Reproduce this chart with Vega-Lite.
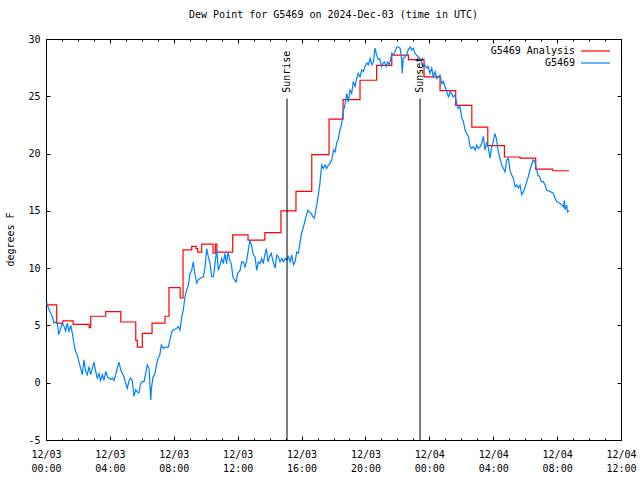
{
  "$schema": "https://vega.github.io/schema/vega-lite/v6.json",
  "width": 575,
  "height": 401,
  "autosize": {"type": "none"},
  "padding": {"left": 46, "top": 39, "right": 19, "bottom": 40},
  "background": "white",
  "config": {
    "font": "DejaVu Sans Mono",
    "view": {"stroke": "black", "strokeWidth": 1},
    "axis": {"labelFont": "DejaVu Sans Mono", "labelFontSize": 10, "labelColor": "black", "tickColor": "black", "domain": false, "grid": false, "title": null},
    "title": {"font": "DejaVu Sans Mono", "fontSize": 10, "fontWeight": "normal", "color": "black"}
  },
  "title": {"text": "Dew Point for G5469 on 2024-Dec-03 (time in UTC)", "anchor": "middle", "offset": 14},
  "datasets": {
    "analysis": [
      {"h": 0, "v": 6.8}, {"h": 0.67, "v": 5.2}, {"h": 1.05, "v": 5.4}, {"h": 1.7, "v": 5.1},
      {"h": 2.7, "v": 4.8}, {"h": 2.8, "v": 5.8}, {"h": 3.74, "v": 6.2}, {"h": 4.68, "v": 5.3},
      {"h": 5.62, "v": 3.7}, {"h": 5.72, "v": 3.1}, {"h": 6.03, "v": 4.3}, {"h": 6.64, "v": 5.2},
      {"h": 7.45, "v": 5.8}, {"h": 7.7, "v": 8.3}, {"h": 8.4, "v": 7.4}, {"h": 8.58, "v": 11.6},
      {"h": 9.12, "v": 11.9}, {"h": 9.4, "v": 11.7}, {"h": 9.5, "v": 11.4}, {"h": 9.75, "v": 12.1},
      {"h": 10.46, "v": 11.3}, {"h": 10.6, "v": 12.1}, {"h": 10.7, "v": 11.4}, {"h": 11.69, "v": 12.9},
      {"h": 12.65, "v": 12.45}, {"h": 13.7, "v": 13.1}, {"h": 14.71, "v": 15.0}, {"h": 15.65, "v": 16.7},
      {"h": 16.64, "v": 19.9}, {"h": 17.72, "v": 23.0}, {"h": 18.6, "v": 24.7}, {"h": 19.66, "v": 26.4},
      {"h": 20.7, "v": 27.7}, {"h": 21.65, "v": 28.6}, {"h": 22.69, "v": 28.2}, {"h": 23.67, "v": 26.7},
      {"h": 24.67, "v": 25.5}, {"h": 25.65, "v": 24.2}, {"h": 26.66, "v": 22.3}, {"h": 27.66, "v": 20.7},
      {"h": 28.7, "v": 19.7}, {"h": 29.68, "v": 19.6}, {"h": 30.66, "v": 18.65}, {"h": 31.73, "v": 18.5},
      {"h": 32.75, "v": 18.5}
    ],
    "obs": [
      {"h": 0.04, "v": 7.0}, {"h": 0.13, "v": 6.6}, {"h": 0.25, "v": 6.2}, {"h": 0.4, "v": 5.75},
      {"h": 0.5, "v": 5.2}, {"h": 0.6, "v": 5.3}, {"h": 0.7, "v": 5.2}, {"h": 0.8, "v": 4.2},
      {"h": 0.92, "v": 4.75}, {"h": 1.02, "v": 5.2}, {"h": 1.13, "v": 4.9}, {"h": 1.23, "v": 4.5},
      {"h": 1.33, "v": 5.2}, {"h": 1.44, "v": 4.5}, {"h": 1.55, "v": 5.0}, {"h": 1.65, "v": 4.3},
      {"h": 1.75, "v": 3.4}, {"h": 1.86, "v": 2.7}, {"h": 1.96, "v": 2.4}, {"h": 2.07, "v": 1.8},
      {"h": 2.17, "v": 1.25}, {"h": 2.27, "v": 0.7}, {"h": 2.38, "v": 2.0}, {"h": 2.48, "v": 1.0},
      {"h": 2.59, "v": 0.7}, {"h": 2.69, "v": 1.4}, {"h": 2.8, "v": 0.7}, {"h": 2.9, "v": 1.25},
      {"h": 3.0, "v": 1.8}, {"h": 3.11, "v": 1.0}, {"h": 3.21, "v": 0.4}, {"h": 3.32, "v": 0.8},
      {"h": 3.42, "v": 0.2}, {"h": 3.53, "v": 0.7}, {"h": 3.63, "v": 0.2}, {"h": 3.74, "v": 1.0},
      {"h": 3.84, "v": 0.5}, {"h": 3.94, "v": 0.4}, {"h": 4.05, "v": 0.3}, {"h": 4.15, "v": 0.4},
      {"h": 4.26, "v": 0.2}, {"h": 4.36, "v": 0.7}, {"h": 4.46, "v": 1.25}, {"h": 4.57, "v": 1.8},
      {"h": 4.68, "v": 1.1}, {"h": 4.78, "v": 0.8}, {"h": 4.88, "v": 0.5}, {"h": 4.99, "v": -0.05},
      {"h": 5.09, "v": -0.5}, {"h": 5.2, "v": 0.2}, {"h": 5.3, "v": 0.4}, {"h": 5.4, "v": 0.2},
      {"h": 5.51, "v": -1.2}, {"h": 5.62, "v": -0.6}, {"h": 5.72, "v": -0.8}, {"h": 5.82, "v": -0.9},
      {"h": 5.93, "v": -0.05}, {"h": 6.03, "v": 0.1}, {"h": 6.14, "v": 0.1}, {"h": 6.24, "v": 0.8},
      {"h": 6.34, "v": 1.55}, {"h": 6.45, "v": 1.25}, {"h": 6.56, "v": -1.5}, {"h": 6.6, "v": -0.5},
      {"h": 6.7, "v": 0.5}, {"h": 6.8, "v": 0.7}, {"h": 6.9, "v": 1.4}, {"h": 7.0, "v": 2.1},
      {"h": 7.12, "v": 2.4}, {"h": 7.22, "v": 3.3}, {"h": 7.35, "v": 3.0}, {"h": 7.45, "v": 3.1},
      {"h": 7.66, "v": 3.1}, {"h": 7.87, "v": 4.45}, {"h": 7.97, "v": 4.6}, {"h": 8.18, "v": 4.75},
      {"h": 8.28, "v": 4.9}, {"h": 8.39, "v": 4.6}, {"h": 8.5, "v": 5.75}, {"h": 8.6, "v": 6.35},
      {"h": 8.7, "v": 7.5}, {"h": 8.81, "v": 8.1}, {"h": 8.91, "v": 8.5}, {"h": 9.02, "v": 9.55},
      {"h": 9.12, "v": 9.8}, {"h": 9.22, "v": 10.55}, {"h": 9.33, "v": 9.4}, {"h": 9.44, "v": 8.7},
      {"h": 9.54, "v": 9.0}, {"h": 9.64, "v": 9.1}, {"h": 9.85, "v": 9.25}, {"h": 9.96, "v": 10.1},
      {"h": 10.06, "v": 11.7}, {"h": 10.16, "v": 11.0}, {"h": 10.27, "v": 10.4}, {"h": 10.37, "v": 9.25},
      {"h": 10.48, "v": 9.25}, {"h": 10.58, "v": 10.4}, {"h": 10.69, "v": 11.6}, {"h": 10.79, "v": 9.8},
      {"h": 10.9, "v": 10.3}, {"h": 11.0, "v": 10.85}, {"h": 11.1, "v": 10.4}, {"h": 11.2, "v": 11.3},
      {"h": 11.3, "v": 10.4}, {"h": 11.4, "v": 11.4}, {"h": 11.5, "v": 10.7}, {"h": 11.6, "v": 10.4},
      {"h": 11.7, "v": 9.25}, {"h": 11.8, "v": 9.0}, {"h": 11.9, "v": 8.8}, {"h": 12.0, "v": 9.55},
      {"h": 12.15, "v": 9.8}, {"h": 12.25, "v": 10.55}, {"h": 12.35, "v": 10.55}, {"h": 12.46, "v": 10.1},
      {"h": 12.57, "v": 10.7}, {"h": 12.67, "v": 11.6}, {"h": 12.77, "v": 12.45}, {"h": 12.88, "v": 11.9},
      {"h": 12.98, "v": 11.15}, {"h": 13.09, "v": 11.0}, {"h": 13.19, "v": 9.8}, {"h": 13.3, "v": 10.55},
      {"h": 13.4, "v": 10.4}, {"h": 13.5, "v": 10.85}, {"h": 13.6, "v": 10.4}, {"h": 13.7, "v": 11.15},
      {"h": 13.8, "v": 11.7}, {"h": 13.9, "v": 10.55}, {"h": 14.0, "v": 11.0}, {"h": 14.1, "v": 11.3},
      {"h": 14.2, "v": 10.7}, {"h": 14.34, "v": 10.0}, {"h": 14.45, "v": 11.15}, {"h": 14.55, "v": 11.0},
      {"h": 14.65, "v": 10.55}, {"h": 14.76, "v": 10.85}, {"h": 14.86, "v": 10.55}, {"h": 14.97, "v": 10.85},
      {"h": 15.07, "v": 10.7}, {"h": 15.17, "v": 11.0}, {"h": 15.28, "v": 10.55}, {"h": 15.38, "v": 11.15},
      {"h": 15.49, "v": 10.3}, {"h": 15.59, "v": 10.55}, {"h": 15.7, "v": 11.4}, {"h": 15.8, "v": 11.3},
      {"h": 15.9, "v": 12.2}, {"h": 16.0, "v": 13.05}, {"h": 16.1, "v": 13.5}, {"h": 16.2, "v": 14.05},
      {"h": 16.3, "v": 14.6}, {"h": 16.4, "v": 15.05}, {"h": 16.5, "v": 14.9}, {"h": 16.6, "v": 14.8},
      {"h": 16.7, "v": 14.5}, {"h": 16.8, "v": 14.35}, {"h": 16.95, "v": 15.5}, {"h": 17.05, "v": 16.4},
      {"h": 17.15, "v": 17.4}, {"h": 17.26, "v": 19.0}, {"h": 17.36, "v": 18.7}, {"h": 17.47, "v": 19.0},
      {"h": 17.57, "v": 18.7}, {"h": 17.68, "v": 19.0}, {"h": 17.78, "v": 19.15}, {"h": 17.89, "v": 19.45},
      {"h": 18.0, "v": 20.3}, {"h": 18.1, "v": 20.15}, {"h": 18.2, "v": 20.9}, {"h": 18.3, "v": 21.3},
      {"h": 18.4, "v": 22.05}, {"h": 18.5, "v": 22.5}, {"h": 18.6, "v": 23.65}, {"h": 18.7, "v": 24.1},
      {"h": 18.83, "v": 25.25}, {"h": 18.93, "v": 24.5}, {"h": 19.04, "v": 25.55}, {"h": 19.14, "v": 25.25},
      {"h": 19.24, "v": 26.3}, {"h": 19.35, "v": 25.85}, {"h": 19.45, "v": 26.55}, {"h": 19.55, "v": 27.0},
      {"h": 19.66, "v": 26.7}, {"h": 19.77, "v": 27.3}, {"h": 19.87, "v": 27.15}, {"h": 19.97, "v": 27.6},
      {"h": 20.08, "v": 27.9}, {"h": 20.18, "v": 27.75}, {"h": 20.3, "v": 28.3}, {"h": 20.4, "v": 27.75},
      {"h": 20.5, "v": 28.0}, {"h": 20.6, "v": 29.2}, {"h": 20.7, "v": 28.6}, {"h": 20.8, "v": 28.2},
      {"h": 20.9, "v": 28.3}, {"h": 21.0, "v": 27.6}, {"h": 21.1, "v": 27.9}, {"h": 21.2, "v": 28.0},
      {"h": 21.3, "v": 27.6}, {"h": 21.4, "v": 28.0}, {"h": 21.5, "v": 27.75}, {"h": 21.65, "v": 28.75},
      {"h": 21.75, "v": 28.6}, {"h": 21.85, "v": 28.9}, {"h": 21.96, "v": 29.3}, {"h": 22.06, "v": 29.3},
      {"h": 22.17, "v": 29.2}, {"h": 22.27, "v": 28.2}, {"h": 22.3, "v": 27.0}, {"h": 22.37, "v": 28.3},
      {"h": 22.48, "v": 28.45}, {"h": 22.58, "v": 28.6}, {"h": 22.68, "v": 29.05}, {"h": 22.8, "v": 29.3},
      {"h": 22.9, "v": 29.05}, {"h": 23.0, "v": 29.2}, {"h": 23.1, "v": 28.75}, {"h": 23.2, "v": 28.6},
      {"h": 23.3, "v": 28.45}, {"h": 23.4, "v": 28.3}, {"h": 23.5, "v": 28.1}, {"h": 23.6, "v": 27.6},
      {"h": 23.7, "v": 27.75}, {"h": 23.85, "v": 27.45}, {"h": 23.94, "v": 27.6}, {"h": 24.04, "v": 27.0},
      {"h": 24.15, "v": 27.45}, {"h": 24.25, "v": 26.7}, {"h": 24.36, "v": 27.15}, {"h": 24.46, "v": 26.55},
      {"h": 24.56, "v": 26.7}, {"h": 24.67, "v": 26.85}, {"h": 24.78, "v": 26.1}, {"h": 24.88, "v": 26.3},
      {"h": 24.98, "v": 25.85}, {"h": 25.09, "v": 25.4}, {"h": 25.2, "v": 24.95}, {"h": 25.3, "v": 25.4},
      {"h": 25.4, "v": 25.25}, {"h": 25.5, "v": 24.95}, {"h": 25.61, "v": 25.1}, {"h": 25.7, "v": 24.5},
      {"h": 25.8, "v": 23.95}, {"h": 25.92, "v": 24.1}, {"h": 26.03, "v": 23.1}, {"h": 26.13, "v": 22.8},
      {"h": 26.24, "v": 22.05}, {"h": 26.34, "v": 21.75}, {"h": 26.45, "v": 21.5}, {"h": 26.55, "v": 20.6},
      {"h": 26.65, "v": 20.45}, {"h": 26.76, "v": 20.6}, {"h": 26.87, "v": 20.3}, {"h": 26.97, "v": 20.75},
      {"h": 27.07, "v": 20.45}, {"h": 27.18, "v": 20.6}, {"h": 27.28, "v": 20.9}, {"h": 27.38, "v": 21.5},
      {"h": 27.49, "v": 20.3}, {"h": 27.6, "v": 21.0}, {"h": 27.7, "v": 20.45}, {"h": 27.8, "v": 19.6},
      {"h": 27.9, "v": 20.6}, {"h": 28.0, "v": 21.0}, {"h": 28.1, "v": 21.75}, {"h": 28.2, "v": 21.3},
      {"h": 28.3, "v": 20.3}, {"h": 28.4, "v": 19.7}, {"h": 28.53, "v": 19.0}, {"h": 28.64, "v": 18.7},
      {"h": 28.74, "v": 18.4}, {"h": 28.85, "v": 19.45}, {"h": 28.95, "v": 19.6}, {"h": 29.05, "v": 18.55},
      {"h": 29.16, "v": 18.1}, {"h": 29.26, "v": 17.85}, {"h": 29.37, "v": 17.1}, {"h": 29.47, "v": 17.25},
      {"h": 29.58, "v": 17.0}, {"h": 29.68, "v": 17.25}, {"h": 29.78, "v": 16.4}, {"h": 29.9, "v": 16.7},
      {"h": 30.0, "v": 17.1}, {"h": 30.1, "v": 17.55}, {"h": 30.2, "v": 18.0}, {"h": 30.3, "v": 18.55},
      {"h": 30.4, "v": 19.0}, {"h": 30.5, "v": 19.45}, {"h": 30.6, "v": 19.3}, {"h": 30.7, "v": 18.7},
      {"h": 30.8, "v": 18.1}, {"h": 30.9, "v": 18.0}, {"h": 31.0, "v": 17.55}, {"h": 31.13, "v": 17.55},
      {"h": 31.25, "v": 17.25}, {"h": 31.35, "v": 16.8}, {"h": 31.55, "v": 16.7}, {"h": 31.76, "v": 16.55},
      {"h": 31.87, "v": 16.1}, {"h": 31.98, "v": 15.8}, {"h": 32.2, "v": 15.65}, {"h": 32.3, "v": 15.5},
      {"h": 32.4, "v": 15.35}, {"h": 32.45, "v": 15.9}, {"h": 32.5, "v": 15.1}, {"h": 32.6, "v": 15.5},
      {"h": 32.65, "v": 14.9}, {"h": 32.75, "v": 15.0}
    ],
    "sun": [
      {"event": "Sunrise", "h": 15.09},
      {"event": "Sunset", "h": 23.42}
    ]
  },
  "resolve": {
    "scale": {"x": "shared", "y": "shared", "color": "shared"},
    "axis": {"x": "independent", "y": "independent"}
  },
  "layer": [
    {
      "data": {"name": "analysis"},
      "mark": {"type": "line", "interpolate": "step-after", "strokeWidth": 1.2},
      "encoding": {
        "x": {"field": "h", "type": "quantitative",
              "scale": {"domain": [0, 36], "nice": false, "zero": false},
              "axis": {"orient": "bottom", "values": [0, 4, 8, 12, 16, 20, 24, 28, 32, 36],
                       "tickSize": -4, "labelPadding": 13, "labelLineHeight": 14, "labelFlush": false,
                       "labelExpr": "[datum.value < 24 ? '12/03' : '12/04', (datum.value % 24 < 10 ? '0' : '') + (datum.value % 24) + ':00']"}},
        "y": {"field": "v", "type": "quantitative",
              "scale": {"domain": [-5, 30], "nice": false, "zero": false},
              "axis": {"orient": "left", "values": [-5, 0, 5, 10, 15, 20, 25, 30], "tickSize": -4, "labelPadding": 10,
                       "labelExpr": "datum.value + ''", "labelFlush": false,
                       "title": "degrees F", "titleFont": "DejaVu Sans Mono", "titleFontSize": 10, "titleFontWeight": "normal",
                       "titleX": -36, "titleY": 200, "titleAngle": 270, "titleAlign": "center", "titleBaseline": "middle"}},
        "color": {"datum": "G5469 Analysis", "type": "nominal",
                  "scale": {"domain": ["G5469 Analysis", "G5469"], "range": ["#ff0000", "#0080ff"]},
                  "legend": {"orient": "none", "legendX": 543.5, "legendY": 6, "title": null, "padding": 0,
                             "symbolType": "M-2.9,0H2.9", "symbolSize": 100, "symbolStrokeWidth": 1.2,
                             "labelAlign": "right", "labelOffset": -26.5, "labelFont": "DejaVu Sans Mono",
                             "labelFontSize": 10, "labelColor": "black", "rowPadding": 1}}
      }
    },
    {
      "data": {"name": "obs"},
      "mark": {"type": "line", "strokeWidth": 1.2},
      "encoding": {
        "x": {"field": "h", "type": "quantitative",
              "axis": {"orient": "top", "values": [0, 4, 8, 12, 16, 20, 24, 28, 32, 36], "tickSize": -4, "labels": false}},
        "y": {"field": "v", "type": "quantitative",
              "axis": {"orient": "right", "values": [-5, 0, 5, 10, 15, 20, 25, 30], "tickSize": -4, "labels": false}},
        "color": {"datum": "G5469", "type": "nominal"}
      }
    },
    {
      "data": {"name": "sun"},
      "mark": {"type": "rule", "color": "black", "strokeWidth": 1},
      "encoding": {
        "x": {"field": "h", "type": "quantitative",
              "axis": {"orient": "bottom", "values": [0,1,2,3,4,5,6,7,8,9,10,11,12,13,14,15,16,17,18,19,20,21,22,23,24,25,26,27,28,29,30,31,32,33,34,35,36], "tickSize": -2, "labels": false}},
        "y": {"datum": 24.8, "type": "quantitative", "axis": null},
        "y2": {"datum": -5}
      }
    },
    {
      "data": {"name": "sun"},
      "mark": {"type": "text", "angle": 270, "align": "left", "baseline": "middle", "font": "DejaVu Sans Mono", "fontSize": 10, "color": "black"},
      "encoding": {
        "x": {"field": "h", "type": "quantitative",
              "axis": {"orient": "top", "values": [0,1,2,3,4,5,6,7,8,9,10,11,12,13,14,15,16,17,18,19,20,21,22,23,24,25,26,27,28,29,30,31,32,33,34,35,36], "tickSize": -2, "labels": false}},
        "y": {"datum": 25.3, "type": "quantitative", "axis": null},
        "text": {"field": "event"}
      }
    }
  ]
}
